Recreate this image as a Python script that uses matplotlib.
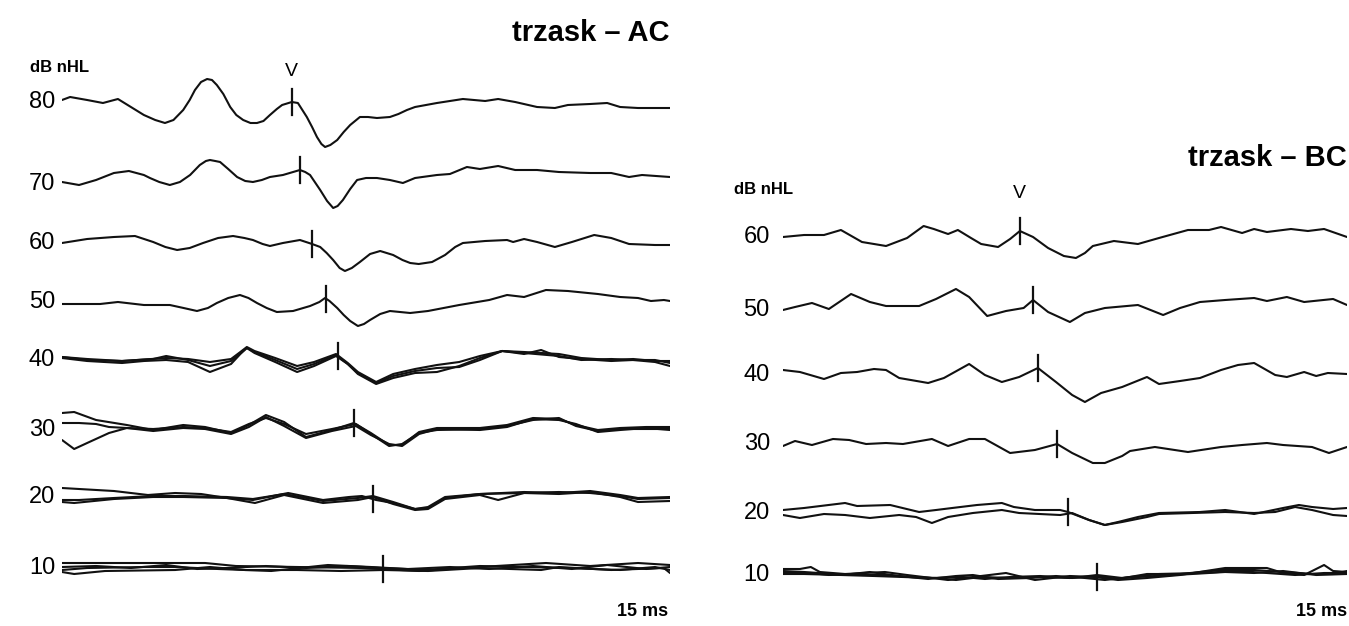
import numpy as np
import matplotlib.pyplot as plt

plt.rcParams['font.family'] = ['Liberation Sans Narrow', 'Liberation Sans', 'DejaVu Sans']

# ── ABR data: (time ms, amplitude a.u.) ─────────────────
ac_levels = [80, 70, 60, 50, 40, 30, 20, 10]
ac_latency = [5.67, 5.87, 6.17, 6.51, 6.81, 7.20, 7.67, 7.92]

ac80 = [(0, 2), (0.20, 5), (0.62, 2), (1.01, -1), (1.38, 3), (1.70, -5), (2.02, -13), (2.30, -18),
        (2.54, -21), (2.75, -18), (2.99, -8), (3.15, 2), (3.28, 12), (3.43, 20), (3.58, 23),
        (3.70, 22), (3.82, 17), (3.98, 8), (4.15, -5), (4.30, -13), (4.47, -18), (4.65, -21),
        (4.81, -21), (4.97, -19), (5.13, -13), (5.30, -7), (5.43, -3), (5.67, 0), (5.82, -1),
        (6.04, -15), (6.17, -25), (6.29, -35), (6.40, -42), (6.49, -45), (6.62, -43), (6.79, -38),
        (6.95, -30), (7.11, -23), (7.35, -15), (7.55, -15), (7.77, -16), (8.09, -15), (8.30, -12),
        (8.51, -8), (8.71, -5), (9.25, -1), (9.89, 3), (10.44, 1), (10.76, 3), (11.18, 0),
        (11.72, -5), (12.16, -6), (12.48, -3), (13.03, -2), (13.45, -1), (13.77, -5), (14.21, -6),
        (15.0, -6)]
ac70 = [(0, 2), (0.42, -1), (0.84, 4), (1.28, 11), (1.65, 13), (2.02, 9), (2.17, 6), (2.40, 2),
        (2.66, -1), (2.91, 2), (3.16, 9), (3.40, 19), (3.55, 23), (3.65, 24), (3.78, 23), (3.90, 22),
        (4.10, 15), (4.32, 7), (4.52, 3), (4.71, 2), (4.93, 4), (5.13, 7), (5.45, 9), (5.87, 14),
        (6.00, 12), (6.12, 9), (6.37, -6), (6.54, -17), (6.69, -24), (6.80, -22), (6.93, -16),
        (7.11, -5), (7.28, 4), (7.50, 6), (7.77, 6), (8.09, 4), (8.41, 1), (8.71, 6), (9.25, 9),
        (9.57, 10), (9.99, 17), (10.31, 15), (10.76, 18), (11.18, 14), (11.72, 14), (12.26, 12),
        (13.03, 11), (13.55, 11), (13.99, 7), (14.31, 9), (15.0, 7)]
ac60 = [(0, 0), (0.62, 4), (1.28, 6), (1.80, 7), (2.25, 1), (2.55, -4), (2.84, -7), (3.15, -5),
        (3.48, 0), (3.85, 5), (4.22, 7), (4.50, 5), (4.71, 3), (4.95, -1), (5.13, -3), (5.45, 0),
        (5.87, 3), (6.17, -1), (6.37, -4), (6.53, -10), (6.69, -17), (6.85, -25), (6.98, -28),
        (7.15, -25), (7.35, -19), (7.60, -11), (7.85, -8), (8.17, -12), (8.40, -17), (8.59, -20),
        (8.80, -21), (9.13, -19), (9.45, -12), (9.70, -4), (9.89, 0), (10.44, 2), (10.98, 3),
        (11.13, 1), (11.40, 4), (11.72, 1), (12.16, -4), (12.58, 1), (13.13, 8), (13.55, 5),
        (13.99, -1), (14.63, -2), (15.0, -2)]
ac50 = [(0, -2), (0.94, -2), (1.38, 0), (2.02, -3), (2.66, -3), (3.00, -6), (3.33, -9), (3.60, -6),
        (3.82, -1), (4.10, 4), (4.39, 7), (4.60, 4), (4.81, -1), (5.05, -6), (5.30, -10), (5.70, -9),
        (6.12, -4), (6.35, 0), (6.49, 4), (6.60, 1), (6.79, -6), (6.95, -13), (7.11, -19),
        (7.30, -24), (7.45, -22), (7.60, -18), (7.85, -12), (8.09, -9), (8.59, -11), (9.03, -9),
        (9.80, -3), (10.54, 2), (10.98, 7), (11.40, 5), (11.94, 12), (12.48, 11), (13.22, 8),
        (13.77, 5), (14.21, 4), (14.53, 1), (14.85, 2), (15.0, 1)]
ac40a = [(0, 3), (0.62, 1), (1.48, -1), (2.57, 2), (3.11, 1), (3.65, -2), (4.17, 1), (4.40, 8),
         (4.56, 13), (4.75, 9), (5.26, 2), (5.80, -6), (6.22, -2), (6.76, 6), (7.05, -3), (7.30, -12),
         (7.75, -22), (8.17, -14), (8.71, -9), (9.25, -5), (9.80, -2), (10.31, 4), (10.86, 9),
         (11.40, 8), (12.26, 6), (12.81, 2), (13.55, 0), (14.09, 1), (14.63, -1), (15.0, -1)]
ac40b = [(0, 2), (0.62, -1), (1.48, -3), (2.02, -1), (2.57, 0), (3.11, -2), (3.65, -12), (4.17, -4),
         (4.40, 6), (4.56, 12), (4.75, 7), (5.26, -2), (5.80, -12), (6.22, -6), (6.76, 4), (7.05, -4),
         (7.30, -14), (7.75, -24), (8.17, -18), (8.71, -13), (9.25, -12), (9.80, -6), (10.31, 2),
         (10.86, 9), (11.40, 6), (11.82, 10), (12.26, 3), (12.81, 1), (13.55, -1), (14.09, 0),
         (14.63, -2), (15.0, -6)]
ac40c = [(0, 3), (0.62, 0), (1.48, -1), (2.25, 1), (2.57, 4), (3.11, 0), (3.65, -6), (4.17, -1),
         (4.40, 7), (4.56, 12), (4.75, 8), (5.26, 0), (5.80, -9), (6.22, -4), (6.76, 5), (7.05, -4),
         (7.30, -13), (7.75, -23), (8.17, -16), (8.71, -11), (9.25, -8), (9.80, -7), (10.31, 0),
         (10.86, 9), (11.40, 7), (12.26, 4), (12.81, 0), (13.55, 1), (14.09, 0), (14.63, 0), (15.0, -3)]
ac30a = [(0, 17), (0.30, 18), (0.84, 10), (1.60, 5), (2.25, 0), (2.99, 5), (3.53, 3), (4.17, -3),
         (4.61, 5), (5.03, 15), (5.48, 8), (6.02, -7), (6.66, 0), (7.20, 7), (7.62, -3), (8.07, -15),
         (8.39, -15), (8.81, -2), (9.25, 2), (10.31, 2), (10.98, 5), (11.62, 12), (12.26, 11),
         (12.68, 5), (13.22, 0), (13.77, 2), (14.41, 3), (15.0, 3)]
ac30b = [(0, 7), (0.42, 7), (0.84, 6), (1.16, 3), (1.60, 2), (2.25, 1), (2.99, 3), (3.53, 2),
         (4.17, -2), (4.61, 6), (5.03, 12), (5.48, 6), (6.02, -4), (6.66, 1), (7.25, 6), (7.62, -4),
         (8.07, -16), (8.39, -14), (8.81, -3), (9.25, 0), (10.31, 1), (10.98, 4), (11.62, 10),
         (12.26, 12), (12.68, 4), (13.22, -1), (13.77, 1), (14.41, 1), (15.0, 1)]
ac30c = [(0, -10), (0.30, -19), (0.62, -13), (1.16, -3), (1.60, 2), (2.25, -1), (2.99, 2), (3.53, 1),
         (4.17, -4), (4.61, 3), (5.03, 13), (5.48, 4), (6.02, -8), (6.66, -1), (7.25, 4), (7.62, -5),
         (8.07, -14), (8.39, -16), (8.81, -4), (9.25, 1), (10.31, 0), (10.98, 3), (11.62, 11),
         (12.26, 10), (12.68, 6), (13.22, -2), (13.77, 0), (14.41, 2), (15.0, 0)]
ac20a = [(0, 9), (0.42, 8), (1.28, 6), (2.12, 2), (2.79, 4), (3.43, 3), (4.07, -1), (4.71, -3),
         (5.58, 4), (6.44, -3), (7.08, 0), (7.40, 1), (7.75, -3), (8.17, -6), (8.71, -12), (9.03, -11),
         (9.45, -1), (10.31, 3), (11.40, 5), (12.26, 4), (13.03, 6), (13.77, 2), (14.21, -1), (15.0, 0)]
ac20b = [(0, -5), (0.30, -6), (1.28, -2), (2.25, 0), (2.99, 0), (4.07, -1), (4.76, -6), (5.48, 2),
         (6.44, -6), (7.30, -3), (7.67, 0), (8.17, -7), (8.71, -13), (9.03, -12), (9.45, -2),
         (10.31, 2), (10.76, -3), (11.40, 4), (12.26, 3), (13.03, 5), (13.77, 0), (14.21, -5), (15.0, -4)]
ac20c = [(0, -3), (0.42, -3), (1.28, -1), (2.25, 1), (2.99, 1), (4.07, 0), (4.71, -2), (5.48, 3),
         (6.44, -4), (7.30, -1), (7.67, 1), (8.17, -5), (8.71, -12), (9.03, -10), (9.45, 0),
         (10.31, 3), (11.40, 4), (12.26, 5), (13.03, 4), (13.77, 1), (14.21, -2), (15.0, -1)]
ac10a = [(0, 5), (1.70, 5), (2.79, 5), (3.53, 5), (4.29, 2), (5.80, 1), (7.40, 0), (8.81, -3),
         (10.31, 1), (11.94, 5), (13.03, 2), (14.21, 5), (15.0, 3)]
ac10b = [(0, -2), (0.62, 0), (2.02, 1), (2.79, 1), (3.85, -1), (5.16, -3), (6.56, 3), (7.62, 1),
         (8.93, -2), (10.31, 2), (11.40, 1), (12.48, 0), (13.77, -2), (14.63, 1), (15.0, -2)]
ac10c = [(0, -4), (0.30, -6), (1.06, -3), (2.79, -2), (3.65, 1), (4.52, -2), (5.80, -2), (6.88, -3),
         (7.94, -2), (9.03, -3), (10.31, 0), (11.82, -2), (12.26, 1), (13.55, -2), (14.85, 0), (15.0, -5)]
ac10d = [(0, 1), (0.84, 2), (1.70, 0), (2.57, 3), (3.33, -1), (4.07, 0), (5.03, 2), (6.02, 0),
         (7.03, 2), (7.92, 0), (8.54, -1), (9.57, 1), (10.54, -1), (11.62, 2), (12.58, -1),
         (13.45, 3), (14.41, -1), (15.0, 1)]

bc_levels = [60, 50, 40, 30, 20, 10]
bc_latency = [6.30, 6.65, 6.78, 7.29, 7.58, 8.35]

bc60 = [(0, 0), (0.56, 2), (1.09, 2), (1.54, 7), (2.10, -5), (2.74, -9), (3.30, -1), (3.74, 11),
        (4.01, 8), (4.39, 3), (4.65, 7), (5.00, -1), (5.27, -7), (5.72, -10), (6.04, -2), (6.30, 6),
        (6.65, 0), (7.05, -11), (7.47, -19), (7.79, -21), (8.03, -16), (8.24, -9), (8.80, -4),
        (9.44, -7), (10.0, -1), (10.77, 7), (11.33, 7), (11.65, 10), (12.21, 4), (12.53, 8),
        (12.87, 5), (13.51, 8), (13.96, 6), (14.39, 8), (15.0, 0)]
bc50 = [(0, 0), (0.32, 3), (0.77, 7), (1.22, 1), (1.81, 16), (2.31, 8), (2.74, 4), (3.62, 4),
        (4.07, 11), (4.60, 21), (4.95, 13), (5.43, -6), (5.93, -1), (6.40, 2), (6.65, 10),
        (7.05, -2), (7.63, -12), (8.03, -3), (8.56, 2), (9.44, 5), (10.11, -5), (10.56, 2),
        (11.09, 8), (11.76, 10), (12.53, 12), (12.87, 9), (13.40, 13), (13.86, 8), (14.63, 11),
        (15.0, 5)]
bc40 = [(0, 5), (0.45, 3), (1.09, -4), (1.54, 2), (1.97, 3), (2.42, 6), (2.74, 5), (3.09, -3),
        (3.40, -5), (3.86, -8), (4.28, -3), (4.95, 11), (5.37, 0), (5.82, -7), (6.28, -2), (6.78, 7),
        (7.26, -7), (7.69, -20), (8.03, -27), (8.46, -18), (9.02, -12), (9.68, -2), (10.0, -9),
        (10.56, -6), (11.09, -3), (11.65, 5), (12.10, 10), (12.53, 12), (13.09, 0), (13.40, -2),
        (13.86, 3), (14.18, -1), (14.49, 2), (15.0, 1)]
bc30 = [(0, -2), (0.32, 3), (0.77, -1), (1.33, 5), (1.76, 4), (2.21, 0), (2.74, 1), (3.19, 0),
        (3.96, 5), (4.39, -2), (4.95, 5), (5.37, 5), (6.04, -9), (6.70, -6), (7.29, 0), (7.69, -9),
        (8.24, -19), (8.56, -19), (9.02, -12), (9.23, -7), (9.89, -3), (10.77, -8), (11.65, -3),
        (12.21, -1), (12.87, 1), (13.30, -1), (14.07, -3), (14.52, -9), (15.0, -3)]
bc20a = [(0, 3), (0.56, 5), (1.65, 10), (1.97, 7), (2.85, 8), (3.62, 1), (4.07, 3), (4.50, 5),
         (5.16, 8), (5.82, 10), (6.14, 6), (6.70, 3), (7.37, 3), (7.58, 1), (8.14, -7), (8.56, -12),
         (8.91, -9), (9.44, -4), (10.0, 0), (11.09, 1), (11.76, 3), (12.53, -1), (13.30, 5),
         (13.72, 8), (14.07, 6), (14.63, 4), (15.0, 5)]
bc20b = [(0, -2), (0.45, -5), (1.09, -1), (1.65, -2), (2.31, -5), (3.09, -2), (3.54, -4), (3.96, -10),
         (4.39, -4), (5.05, 0), (5.82, 3), (6.28, 0), (7.37, -2), (7.69, 0), (8.14, -7), (8.56, -12),
         (9.02, -9), (9.68, -4), (10.0, -1), (10.88, 0), (11.76, 1), (12.53, 0), (13.09, 1),
         (13.62, 6), (14.07, 3), (14.63, -2), (15.0, -3)]
bc10a = [(0, 6), (0.45, 6), (0.74, 8), (0.98, 3), (1.65, 1), (2.71, 3), (3.30, 0), (4.39, -5),
         (5.27, -1), (5.93, 2), (6.70, -5), (7.63, -1), (8.29, -2), (8.91, -5), (9.68, -3), (10.56, 0),
         (11.76, 7), (12.87, 7), (13.30, 2), (13.86, 0), (14.39, 10), (14.63, 4), (15.0, 3)]
bc10b = [(0, 4), (0.56, 3), (1.33, 1), (2.10, 0), (2.71, 0), (3.40, -2), (4.07, -3), (4.60, -5),
         (5.27, -2), (6.04, -3), (6.84, -2), (7.63, -3), (8.35, -1), (8.91, -4), (9.68, 1), (10.56, 1),
         (11.65, 5), (12.53, 5), (13.30, 3), (14.07, 1), (14.63, 1), (15.0, 4)]
bc10c = [(0, 2), (0.74, 2), (1.22, 0), (1.81, 1), (2.31, 3), (3.09, -1), (3.86, -4), (4.60, -1),
         (5.05, 0), (5.72, -4), (6.56, -3), (7.26, -1), (8.03, -3), (8.56, -5), (9.23, -2), (10.0, 1),
         (11.09, 2), (12.10, 4), (12.87, 2), (13.62, 0), (14.39, 2), (15.0, 2)]
bc10d = [(0, 1), (0.56, 1), (1.54, 0), (2.42, -1), (3.19, -2), (3.96, -3), (4.79, -2), (5.37, -4),
         (6.04, -2), (6.84, -1), (7.69, -3), (8.35, 0), (9.02, -3), (9.89, -1), (10.88, 1), (11.76, 3),
         (12.53, 2), (13.30, 4), (14.18, 0), (15.0, 1)]

ac_traces = [[ac80], [ac70], [ac60], [ac50], [ac40a, ac40b, ac40c],
             [ac30a, ac30b, ac30c], [ac20a, ac20b, ac20c], [ac10a, ac10b, ac10c, ac10d]]
bc_traces = [[bc60], [bc50], [bc40], [bc30], [bc20a, bc20b], [bc10a, bc10b, bc10c, bc10d]]

# ── Layout (vertical position of each trace row) ─────────
ac_base = [102, 184, 243, 302, 360, 430, 497, 568]
bc_base = [237, 310, 375, 444, 513, 575]

W, H = 1349, 626
fig = plt.figure(figsize=(W / 100, H / 100), dpi=100)
ax_ac = fig.add_axes([62 / W, 0, (670 - 62) / W, 1])
ax_bc = fig.add_axes([783 / W, 0, (1347 - 783) / W, 1])


def draw_panel(ax, levels, base, traces, latency, label_x):
    for lvl, y0, group, lat in zip(levels, base, traces, latency):
        for tr in group:
            t, a = np.array(tr).T
            ax.plot(t, y0 - a, color="#111111", lw=1.5,
                    solid_joinstyle="round", solid_capstyle="round")
        t0, a0 = np.array(group[0]).T
        yc = y0 - np.interp(lat, t0, a0)
        ax.plot([lat, lat], [yc - 13, yc + 13], color="#111111", lw=1.6)
        ax.text(label_x, y0, str(lvl), ha="right", va="center", fontsize=17, clip_on=False)
    ax.set_xlim(0, 15)
    ax.set_ylim(H, 0)
    ax.axis("off")


draw_panel(ax_ac, ac_levels, ac_base, ac_traces, ac_latency, -0.17)
draw_panel(ax_bc, bc_levels, bc_base, bc_traces, bc_latency, -0.35)

# ── Annotations ──────────────────────────────────────────
ax_ac.text(15, 33, "trzask – AC", ha="right", va="center", fontsize=21, fontweight="bold")
ax_ac.text(-0.8, 68, "dB nHL", ha="left", va="center", fontsize=12, fontweight="bold")
ax_ac.text(ac_latency[0], 72, "V", ha="center", va="center", fontsize=14)
ax_ac.text(14.95, 612, "15 ms", ha="right", va="center", fontsize=13, fontweight="bold")

ax_bc.text(15, 158, "trzask – BC", ha="right", va="center", fontsize=21, fontweight="bold")
ax_bc.text(-1.3, 190, "dB nHL", ha="left", va="center", fontsize=12, fontweight="bold")
ax_bc.text(bc_latency[0], 193, "V", ha="center", va="center", fontsize=14)
ax_bc.text(15, 612, "15 ms", ha="right", va="center", fontsize=13, fontweight="bold")

fig.savefig("out.png", dpi=100)
